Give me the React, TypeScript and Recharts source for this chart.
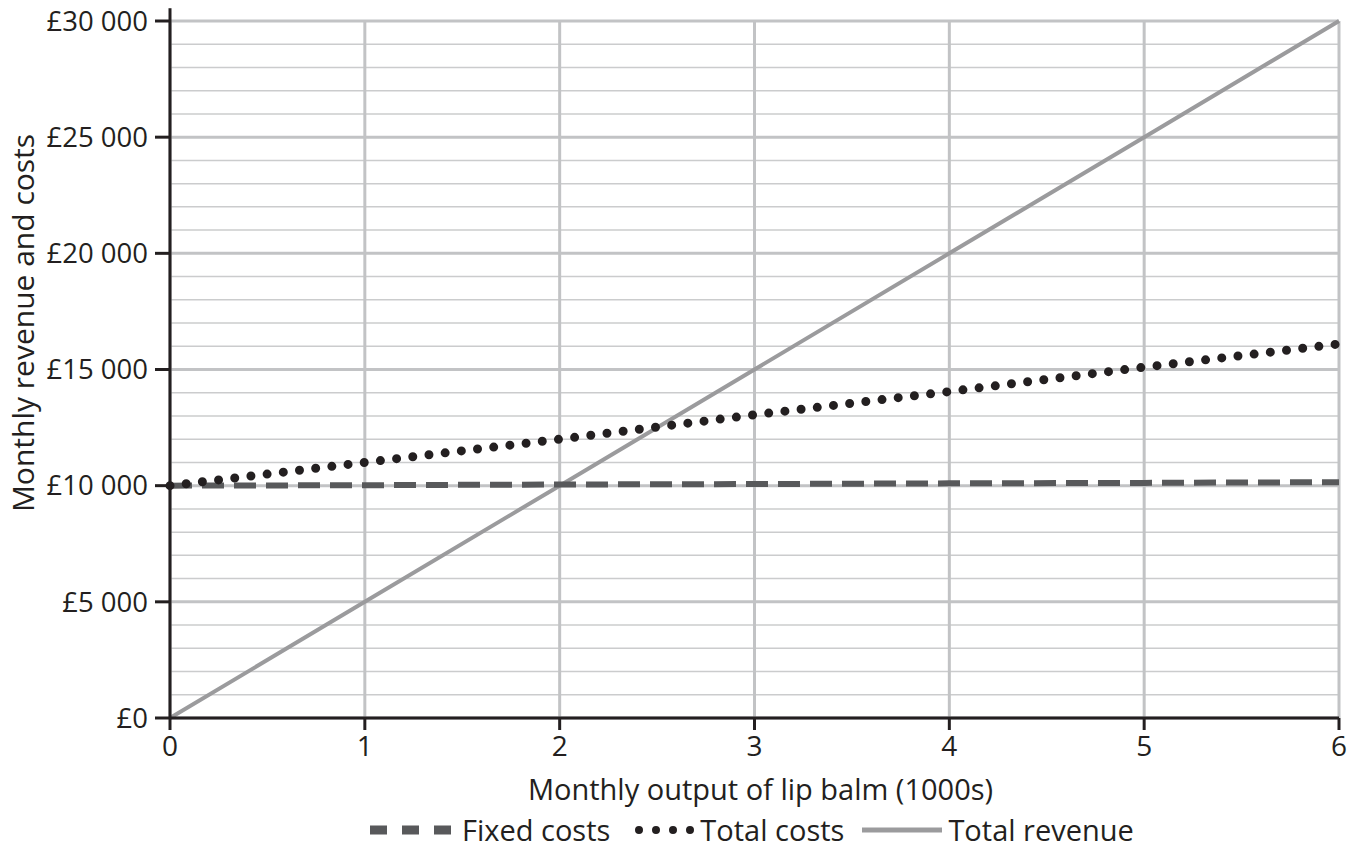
import { LineChart, Line, XAxis, YAxis, CartesianGrid, ReferenceLine } from "recharts";

const output = [0, 1, 2, 3, 4, 5, 6];
const fixedCosts = [10000, 10020, 10050, 10070, 10100, 10120, 10150];
const totalCosts = [10000, 11000, 12000, 13050, 14050, 15100, 16100];
const totalRevenue = [0, 5000, 10000, 15000, 20000, 25000, 30000];

const yTicks = [0, 5000, 10000, 15000, 20000, 25000, 30000];
const yMinor = [
  1000, 2000, 3000, 4000, 6000, 7000, 8000, 9000, 11000, 12000, 13000, 14000,
  16000, 17000, 18000, 19000, 21000, 22000, 23000, 24000, 26000, 27000, 28000,
  29000,
];
const xTicks = [0, 1, 2, 3, 4, 5, 6];

const data = output.map((x, i) => ({
  x,
  fixed: fixedCosts[i],
  total: totalCosts[i],
  revenue: totalRevenue[i],
}));

const INK = "#231f20";
const GRID = "#c2c3c5";
const FONT = "'Open Sans', sans-serif";

const fmtPound = (v: number) =>
  v === 0 ? "£0" : "£" + String(v).replace(/\B(?=(\d{3})+(?!\d))/g, " ");

function YTitle() {
  return (
    <text
      x={22}
      y={323}
      transform="rotate(-90 22 323)"
      textAnchor="middle"
      dominantBaseline="central"
      fill={INK}
      fontSize={30}
      fontFamily={FONT}
    >
      Monthly revenue and costs
    </text>
  );
}

function ChartLegend() {
  return (
    <div
      style={{
        position: "absolute",
        top: 810,
        left: 370,
        display: "flex",
        alignItems: "center",
        fontFamily: FONT,
        fontSize: 29,
        color: INK,
        whiteSpace: "nowrap",
      }}
    >
      <svg width={84} height={12} style={{ marginRight: 8 }}>
        <line x1={0} y1={6} x2={84} y2={6} stroke="#58595b" strokeWidth={9} strokeDasharray="17 15" />
      </svg>
      <span style={{ marginRight: 24 }}>Fixed costs</span>
      <svg width={62} height={12} style={{ marginRight: 4 }}>
        <line x1={5} y1={6} x2={58} y2={6} stroke={INK} strokeWidth={8} strokeLinecap="round" strokeDasharray="0 17" />
      </svg>
      <span style={{ marginRight: 18 }}>Total costs</span>
      <svg width={80} height={12} style={{ marginRight: 6 }}>
        <line x1={0} y1={6} x2={80} y2={6} stroke="#9b9b9d" strokeWidth={5} />
      </svg>
      <span>Total revenue</span>
    </div>
  );
}

export default function App() {
  return (
    <div style={{ position: "absolute", left: 0, top: 0, width: 1362, height: 852, background: "#fff" }}>
      <LineChart width={1362} height={852} data={data} margin={{ top: 21, right: 23, left: 0, bottom: 0 }}>
        <CartesianGrid
          horizontalValues={yMinor}
          vertical={false}
          stroke="#cbcccd"
          strokeWidth={1.5}
        />
        <CartesianGrid
          horizontalValues={yTicks}
          verticalValues={xTicks}
          stroke={GRID}
          strokeWidth={3}
        />
        <XAxis
          dataKey="x"
          type="number"
          domain={[0, 6]}
          ticks={xTicks}
          height={134}
          axisLine={{ stroke: INK, strokeWidth: 3 }}
          tickLine={{ stroke: INK, strokeWidth: 3 }}
          tickSize={12}
          tickMargin={6}
          tick={{ fill: INK, fontSize: 28, fontFamily: FONT }}
          label={{
            value: "Monthly output of lip balm (1000s)",
            position: "insideBottom",
            offset: 52,
            dx: 6,
            fill: INK,
            fontSize: 29,
            fontFamily: FONT,
          }}
        />
        <YAxis
          type="number"
          domain={[0, 30000]}
          ticks={yTicks}
          width={170}
          tickFormatter={fmtPound}
          axisLine={{ stroke: INK, strokeWidth: 3 }}
          tickLine={{ stroke: INK, strokeWidth: 3 }}
          tickSize={15}
          tickMargin={7}
          tick={{ fill: INK, fontSize: 27.5, fontFamily: FONT }}
          label={YTitle}
        />
        {/* axis stub above the top gridline */}
        <ReferenceLine
          segment={[{ x: 0, y: 30000 }, { x: 0, y: 30550 }]}
          stroke={INK}
          strokeWidth={3}
          ifOverflow="visible"
        />
        <Line
          dataKey="revenue"
          stroke="#9b9b9d"
          strokeWidth={4}
          dot={false}
          activeDot={false}
          isAnimationActive={false}
        />
        <Line
          dataKey="fixed"
          stroke="#58595b"
          strokeWidth={6}
          strokeDasharray="22 10"
          dot={false}
          activeDot={false}
          isAnimationActive={false}
        />
        <Line
          dataKey="total"
          stroke={INK}
          strokeWidth={9}
          strokeLinecap="round"
          strokeDasharray="0 16.3"
          dot={false}
          activeDot={false}
          isAnimationActive={false}
        />
      </LineChart>
      <ChartLegend />
    </div>
  );
}
